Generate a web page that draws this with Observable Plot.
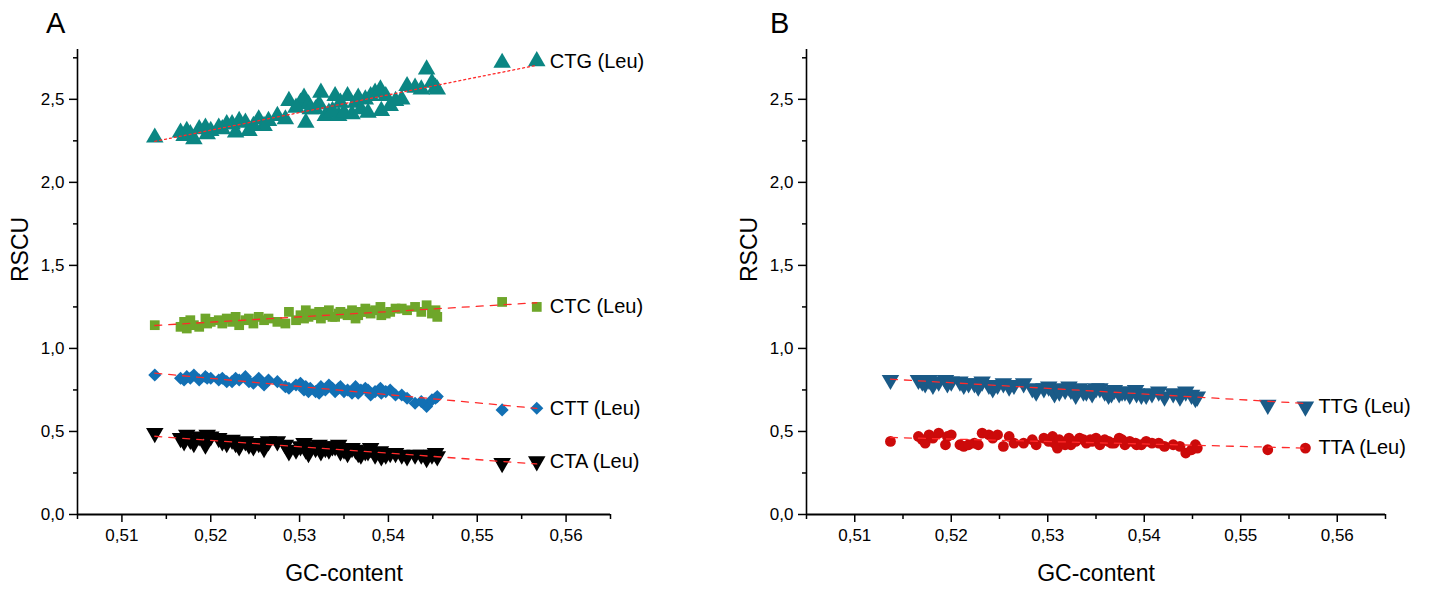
<!DOCTYPE html>
<html>
<head>
<meta charset="utf-8">
<script src="https://cdn.jsdelivr.net/npm/d3@7"></script>
<script src="https://cdn.jsdelivr.net/npm/@observablehq/plot@0.6"></script>
<style>
  html, body { margin: 0; padding: 0; background: #fff; }
  #wrap { position: relative; width: 1434px; height: 592px; font-family: "Liberation Sans", Arial, sans-serif; }
  .panel { position: absolute; top: 0; }
  .letter { position: absolute; font-size: 29px; line-height: 1; color: #000; }
</style>
</head>
<body>
<div id="wrap">
  <div class="letter" style="left:46px; top:9px;">A</div>
  <div class="letter" style="left:770px; top:9px;">B</div>
  <div class="panel" id="pa" style="left:0px;"></div>
  <div class="panel" id="pb" style="left:717px;"></div>
</div>
<script>
// Shared GC-content of each genome (x)
const gc = [0.5137, 0.5166, 0.5170, 0.5173, 0.5177, 0.5181, 0.5187, 0.5194, 0.5196, 0.5209,
            0.5213, 0.5224, 0.5228, 0.5232, 0.5239, 0.5243, 0.5254, 0.5260, 0.5275, 0.5284,
            0.5288, 0.5301, 0.5305, 0.5307, 0.5310, 0.5312, 0.5322, 0.5324, 0.5329, 0.5333,
            0.5340, 0.5344, 0.5346, 0.5354, 0.5359, 0.5363, 0.5369, 0.5374, 0.5380, 0.5385,
            0.5391, 0.5392, 0.5402, 0.5415, 0.5421, 0.5430, 0.5443, 0.5449, 0.5453, 0.5455,
            0.5528, 0.5567,
            0.5200, 0.5218, 0.5248, 0.5265, 0.5296, 0.5318, 0.5337, 0.5350, 0.5366, 0.5377,
            0.5397, 0.5408, 0.5437];

// RSCU values per codon
const ctg = [2.27, 2.30, 2.28, 2.31, 2.29, 2.26, 2.32, 2.33, 2.29, 2.33,
             2.32, 2.35, 2.30, 2.37, 2.36, 2.31, 2.38, 2.34, 2.40, 2.38,
             2.49, 2.48, 2.51, 2.36, 2.47, 2.44, 2.47, 2.54, 2.40, 2.42,
             2.52, 2.40, 2.48, 2.52, 2.41, 2.48, 2.44, 2.50, 2.52, 2.54,
             2.56, 2.43, 2.46, 2.50, 2.58, 2.57, 2.68, 2.60, 2.57, 2.56,
             2.72, 2.73,
             2.31, 2.35, 2.34, 2.37, 2.45, 2.44, 2.43, 2.42, 2.51, 2.42,
             2.52, 2.49, 2.56];
const ctc = [1.14, 1.13, 1.16, 1.12, 1.17, 1.14, 1.13, 1.18, 1.15, 1.17,
             1.15, 1.16, 1.19, 1.14, 1.17, 1.18, 1.19, 1.17, 1.16, 1.15,
             1.22, 1.20, 1.18, 1.23, 1.19, 1.21, 1.22, 1.18, 1.20, 1.23,
             1.19, 1.21, 1.22, 1.20, 1.23, 1.18, 1.22, 1.24, 1.21, 1.23,
             1.25, 1.20, 1.22, 1.24, 1.23, 1.25, 1.26, 1.21, 1.23, 1.19,
             1.28, 1.25,
             1.16, 1.18, 1.15, 1.18, 1.17, 1.20, 1.19, 1.21, 1.20, 1.22,
             1.21, 1.24, 1.22];
const ctt = [0.84, 0.82, 0.81, 0.83, 0.82, 0.84, 0.81, 0.83, 0.82, 0.81,
             0.82, 0.80, 0.82, 0.81, 0.83, 0.80, 0.82, 0.78, 0.80, 0.77,
             0.76, 0.79, 0.75, 0.77, 0.74, 0.76, 0.73, 0.77, 0.75, 0.78,
             0.74, 0.76, 0.77, 0.75, 0.73, 0.77, 0.75, 0.76, 0.72, 0.74,
             0.76, 0.73, 0.75, 0.72, 0.70, 0.67, 0.65, 0.69, 0.70, 0.71,
             0.63, 0.64,
             0.82, 0.80, 0.79, 0.81, 0.78, 0.74, 0.76, 0.74, 0.73, 0.75,
             0.74, 0.72, 0.68];
const cta = [0.49, 0.46, 0.44, 0.48, 0.45, 0.43, 0.47, 0.42, 0.48, 0.46,
             0.44, 0.45, 0.43, 0.41, 0.44, 0.42, 0.43, 0.40, 0.44, 0.42,
             0.38, 0.41, 0.43, 0.39, 0.37, 0.41, 0.42, 0.38, 0.40, 0.39,
             0.41, 0.42, 0.38, 0.37, 0.40, 0.39, 0.36, 0.38, 0.40, 0.36,
             0.38, 0.35, 0.37, 0.36, 0.35, 0.36, 0.34, 0.36, 0.37, 0.35,
             0.31, 0.32,
             0.47, 0.43, 0.41, 0.44, 0.39, 0.40, 0.41, 0.39, 0.37, 0.38,
             0.36, 0.37, 0.36];
const ttg = [0.81, 0.81, 0.80, 0.79, 0.81, 0.78, 0.80, 0.81, 0.79, 0.80,
             0.78, 0.79, 0.77, 0.80, 0.78, 0.76, 0.79, 0.77, 0.79, 0.76,
             0.74, 0.77, 0.75, 0.73, 0.76, 0.74, 0.77, 0.75, 0.72, 0.76,
             0.74, 0.75, 0.73, 0.76, 0.74, 0.72, 0.75, 0.73, 0.74, 0.72,
             0.75, 0.73, 0.72, 0.74, 0.71, 0.73, 0.74, 0.72, 0.70, 0.71,
             0.66, 0.65,
             0.80, 0.79, 0.78, 0.78, 0.76, 0.75, 0.74, 0.76, 0.73, 0.74,
             0.72, 0.73, 0.71];
const tta = [0.44, 0.47, 0.45, 0.43, 0.48, 0.46, 0.49, 0.42, 0.47, 0.42,
             0.41, 0.43, 0.42, 0.49, 0.48, 0.46, 0.41, 0.47, 0.43, 0.45,
             0.42, 0.44, 0.47, 0.43, 0.40, 0.45, 0.46, 0.42, 0.44, 0.46,
             0.43, 0.45, 0.44, 0.42, 0.45, 0.44, 0.43, 0.46, 0.42, 0.44,
             0.43, 0.42, 0.44, 0.43, 0.41, 0.42, 0.37, 0.39, 0.42, 0.40,
             0.39, 0.40,
             0.48, 0.42, 0.48, 0.43, 0.46, 0.42, 0.45, 0.46, 0.43, 0.45,
             0.42, 0.43, 0.41];

const xMajor = [0.51, 0.52, 0.53, 0.54, 0.55, 0.56];
const xMinor = [0.505, 0.515, 0.525, 0.535, 0.545, 0.555, 0.565];
const yMajor = [0, 0.5, 1.0, 1.5, 2.0, 2.5];
const yMinor = [0.25, 0.75, 1.25, 1.75, 2.25, 2.75];
const xDomain = [0.505, 0.565];
const yDomain = [0, 2.8];

const comma = (f) => (d) => d3.format(f)(d).replace(".", ",");

function rows(vals) { return gc.map((g, i) => ({gc: g, v: vals[i]})); }

// series spec: name, values, color, symbol, rotate, r, dash
const seriesA = [
  {name: "CTG (Leu)", vals: ctg, color: "#0b8683", symbol: "triangle", rotate: 0, r: 6.5, dash: "2,3"},
  {name: "CTC (Leu)", vals: ctc, color: "#6ea62a", symbol: "square", rotate: 0, r: 5.5, dash: "7,7"},
  {name: "CTT (Leu)", vals: ctt, color: "#1270b4", symbol: "diamond2", rotate: 0, r: 5.9, dash: "7,7"},
  {name: "CTA (Leu)", vals: cta, color: "#000000", symbol: "triangle", rotate: 180, r: 6.5, dash: "7,7"}
];
const seriesB = [
  {name: "TTG (Leu)", vals: ttg, color: "#1a5a87", symbol: "triangle", rotate: 180, r: 6.5, dash: "7,7"},
  {name: "TTA (Leu)", vals: tta, color: "#cc0a0a", symbol: "circle", rotate: 0, r: 5.4, dash: "7,7"}
];

function panel(series, opts) {
  const marks = [];
  // axes
  marks.push(Plot.axisX(xMajor, {tickSize: 8, tickPadding: 6, tickFormat: comma(".2f"), fontSize: 17, label: null, stroke: "#000", strokeWidth: 1.5}));
  marks.push(Plot.axisX(xMinor, {tickSize: 5, tickFormat: () => "", label: null, stroke: "#000", strokeWidth: 1.5}));
  marks.push(Plot.axisY(yMajor, {tickSize: 8, tickPadding: 5, tickFormat: comma(".1f"), fontSize: 17, label: null, stroke: "#000", strokeWidth: 1.5}));
  marks.push(Plot.axisY(yMinor, {tickSize: 4, tickFormat: () => "", label: null, stroke: "#000", strokeWidth: 1.5}));
  marks.push(Plot.ruleX([xDomain[0]], {stroke: "#000", strokeWidth: 1.6}));
  marks.push(Plot.ruleY([0], {stroke: "#000", strokeWidth: 2.2}));
  // axis titles
  marks.push(Plot.text(["RSCU"], {frameAnchor: "left", dx: -57, rotate: -90, fontSize: 23, fill: "#000"}));
  marks.push(Plot.text(["GC-content"], {frameAnchor: "bottom", dy: 66, fontSize: 23, fill: "#000"}));
  for (const s of series) {
    const data = rows(s.vals);
    marks.push(Plot.dot(data, {x: "gc", y: "v", symbol: () => s.symbol, fill: s.color, stroke: "none", r: s.r, rotate: s.rotate}));
  }
  for (const s of series) {
    const data = rows(s.vals);
    marks.push(Plot.linearRegressionY(data, {x: "gc", y: "v", stroke: "#ff2a2a", strokeWidth: 1.3, strokeDasharray: s.dash, ci: 0}));
    const last = data.reduce((a, b) => (b.gc > a.gc ? b : a));
    marks.push(Plot.text([last], {x: "gc", y: "v", text: () => s.name, textAnchor: "start", dx: 13, fontSize: 20, fill: "#000"}));
  }
  return Plot.plot({
    width: 717,
    height: 592,
    marginTop: 49,
    marginBottom: 78,
    marginLeft: opts.ml,
    marginRight: opts.mr,
    style: {fontFamily: "'Liberation Sans', Arial, sans-serif", fontSize: "17px", color: "#000", background: "transparent", overflow: "visible"},
    x: {domain: xDomain},
    y: {domain: yDomain},
    symbol: {type: "identity"},
    marks
  });
}

document.getElementById("pa").appendChild(panel(seriesA, {ml: 77, mr: 107}));
document.getElementById("pb").appendChild(panel(seriesB, {ml: 89, mr: 49}));
</script>
</body>
</html>
